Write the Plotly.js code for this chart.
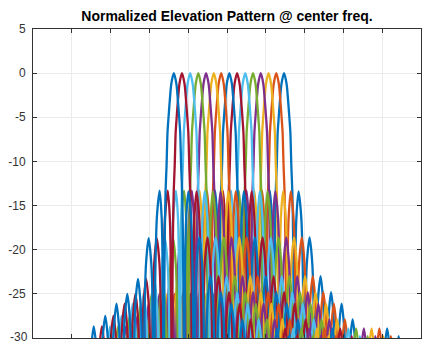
<!DOCTYPE html>
<html>
<head>
<meta charset="utf-8">
<script src="https://cdn.plot.ly/plotly-3.0.1.min.js"></script>
<style>html,body{margin:0;padding:0;background:#fff;}#chart{width:423px;height:344px;}</style>
</head>
<body>
<div id="chart"></div>
<script>
// ---- Data ----
const chartTitle = "Normalized Elevation Pattern @ center freq.";
const xRange = [-50, 50];
const yRange = [-30, 5];
const yTickVals = [5, 0, -5, -10, -15, -20, -25, -30];
const yTickText = ["5", "0", "-5", "-10", "-15", "-20", "-25", ""];
const bottomTickText = "-30";

// Beam peak positions (series 1 = rightmost beam)
const beamCenters = [14.7, 12.7, 10.7, 8.7, 6.7, 4.7, 2.6, 0.6, -1.5, -3.4, -5.4, -7.4, -9.5, -11.6, -13.7];

// Main lobe: offsets from beam peak and levels (dB)
const mainOffsets = [0, 0.65, 1.03, 1.37, 1.63, 1.88, 2.14, 2.32, 2.48, 2.63];
const mainLevels  = [0, -1.2, -3, -5, -6.7, -10.5, -13.5, -18, -26, -45];

// Side lobes to the right of each beam peak
const rightLobeOffsets = [3.74, 6.58, 9.41, 12.12, 14.83, 17.67, 20.64, 23.6, 26.57, 29.54];
const rightLobeLevels  = [-13.4, -18.6, -23, -24.8, -26.1, -27.9, -30.8, -31.5, -28.9, -29.8];

// Side lobes to the left of each beam peak
const leftLobeOffsets = [3.66, 6.5, 9.24, 12.0, 14.78, 17.67, 20.64, 23.6];
const leftLobeLevels  = [-13.3, -18.7, -23.3, -25, -26.1, -27.5, -28.7, -31];

// Side-lobe shape (fraction of half-spacing to the null, drop in dB)
const lobeShapeFrac = [0.5, 0.8, 0.93];
const lobeShapeDrop = [-3, -10, -20];
const nullLevel = -45;

const colors = ['#0072BD', '#D95319', '#EDB120', '#7E2F8E', '#77AC30', '#4DBEEE', '#A2142F'];

// ---- Build one side of a beam: list of [offset, level] going outward ----
function sidePoints(offsets, levels) {
  const pts = [];
  let prevNull = mainOffsets[mainOffsets.length - 1];
  for (let k = 0; k < offsets.length; k++) {
    const p = offsets[k], L = levels[k];
    const nextNull = k < offsets.length - 1 ? (p + offsets[k + 1]) / 2 : p + (p - offsets[k - 1]) / 2;
    const inner = p - prevNull, outer = nextNull - p;
    for (let j = lobeShapeFrac.length - 1; j >= 0; j--) pts.push([p - lobeShapeFrac[j] * inner, L + lobeShapeDrop[j]]);
    pts.push([p, L]);
    for (let j = 0; j < lobeShapeFrac.length; j++) pts.push([p + lobeShapeFrac[j] * outer, L + lobeShapeDrop[j]]);
    pts.push([nextNull, nullLevel]);
    prevNull = nextNull;
  }
  return pts;
}

const traces = beamCenters.map((c, i) => {
  const xs = [], ys = [];
  const left = sidePoints(leftLobeOffsets, leftLobeLevels).reverse();
  left.forEach(([o, v]) => { xs.push(c - o); ys.push(v); });
  for (let j = mainOffsets.length - 1; j >= 1; j--) { xs.push(c - mainOffsets[j]); ys.push(mainLevels[j]); }
  for (let j = 0; j < mainOffsets.length; j++) { xs.push(c + mainOffsets[j]); ys.push(mainLevels[j]); }
  sidePoints(rightLobeOffsets, rightLobeLevels).forEach(([o, v]) => { xs.push(c + o); ys.push(v); });
  return {
    x: xs, y: ys, type: 'scatter', mode: 'lines',
    line: { color: colors[i % colors.length], width: 2.3, shape: 'spline', smoothing: 0.8 },
    hoverinfo: 'skip', showlegend: false
  };
});

const axisColor = '#333333';
const tickFont = { family: 'Liberation Sans, Arial, sans-serif', size: 12, color: axisColor };
const layout = {
  width: 423, height: 344,
  margin: { l: 33, r: 2, t: 29, b: 6 },
  paper_bgcolor: '#ffffff', plot_bgcolor: '#ffffff',
  title: {
    text: chartTitle,
    font: { family: 'Liberation Sans, Arial, sans-serif', size: 14, color: '#000000', weight: 'bold' },
    x: 0.5, xref: 'paper', xanchor: 'center',
    y: 0.952, yref: 'container', yanchor: 'middle'
  },
  xaxis: {
    range: xRange, dtick: 10, tick0: 0, showticklabels: false,
    ticks: 'inside', ticklen: 4, tickcolor: axisColor,
    showline: true, linecolor: axisColor, linewidth: 1, mirror: 'ticks',
    showgrid: true, gridcolor: '#ebebeb', gridwidth: 1, zeroline: false, fixedrange: true
  },
  yaxis: {
    range: yRange, tickvals: yTickVals, ticktext: yTickText,
    ticks: 'inside', ticklen: 4, tickcolor: axisColor,
    tickfont: tickFont,
    ticklabelstandoff: 4,
    showline: true, linecolor: axisColor, linewidth: 1, mirror: 'ticks',
    showgrid: true, gridcolor: '#ebebeb', gridwidth: 1, zeroline: false, fixedrange: true
  },
  annotations: [{
    text: bottomTickText, xref: 'paper', x: 0, yref: 'y', y: yRange[0],
    xanchor: 'right', yanchor: 'middle', xshift: -4, yshift: 1,
    showarrow: false, font: tickFont, borderpad: 0
  }],
  showlegend: false
};

Plotly.newPlot('chart', traces, layout, { staticPlot: true, displayModeBar: false });
</script>
</body>
</html>
